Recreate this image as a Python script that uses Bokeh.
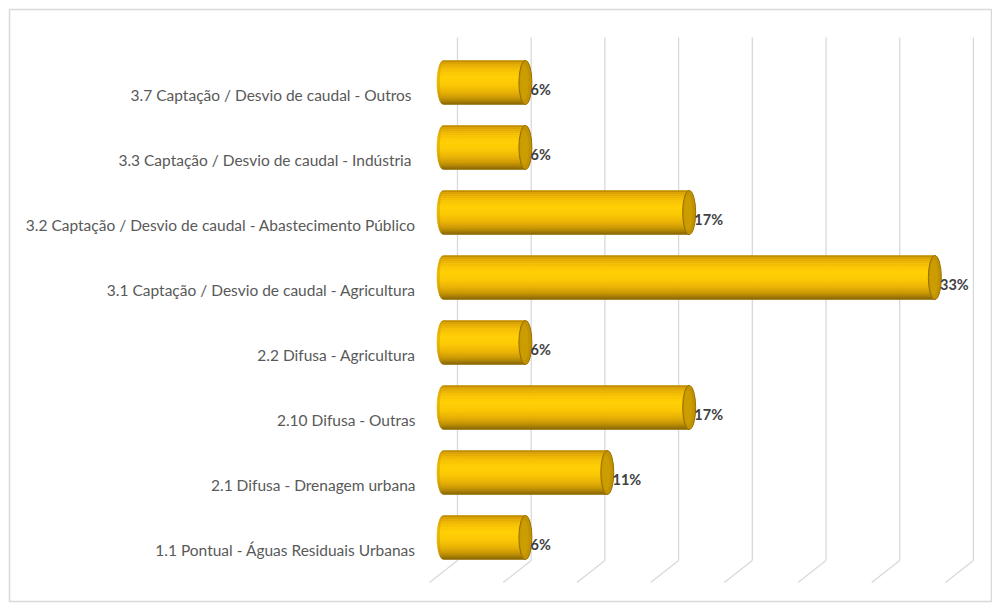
from bokeh.plotting import figure
from bokeh.models import Range1d
from bokeh.core.properties import value
from bokeh.embed import file_html
from bokeh.resources import INLINE
import numpy as np

# ---------------- data ----------------
categories = [
    "1.1 Pontual - Águas Residuais Urbanas",
    "2.1 Difusa - Drenagem urbana",
    "2.10 Difusa - Outras",
    "2.2 Difusa - Agricultura",
    "3.1 Captação / Desvio de caudal - Agricultura",
    "3.2 Captação / Desvio de caudal - Abastecimento Público",
    "3.3 Captação / Desvio de caudal  - Indústria",
    "3.7 Captação / Desvio de caudal  - Outros",
]
shares = [1/18, 2/18, 3/18, 1/18, 6/18, 3/18, 1/18, 1/18]
labels = ["6%", "11%", "17%", "6%", "33%", "17%", "6%", "6%"]
grid_ticks = [0.0, 0.05, 0.10, 0.15, 0.20, 0.25, 0.30, 0.35]

# ---------------- layout / style ----------------
W, H = 992, 604
BL, BT, BB, BR = 9, 9, 3, 0
PX_PER_UNIT = 1474.0          # horizontal scale (pixels per 100%)
X0_PX = 443 - BL              # zero position inside frame
ROW_PX = 65.0                 # spacing between categories
ROW0_PX = 537 - BT            # centre of first category inside frame
fw, fh = W - BL - BR, H - BT - BB

xr = Range1d(-X0_PX / PX_PER_UNIT, (fw - X0_PX) / PX_PER_UNIT)
yr = Range1d((ROW0_PX - fh) / ROW_PX, ROW0_PX / ROW_PX)

def px_x(n):   # horizontal pixel length -> data
    return n / PX_PER_UNIT

def px_y(n):   # vertical pixel length -> data
    return n / ROW_PX

p = figure(width=W, height=H, x_range=xr, y_range=yr,
           output_backend="svg", toolbar_location=None,
           min_border_left=BL, min_border_top=BT,
           min_border_bottom=BB, min_border_right=BR)
p.xaxis.visible = False
p.yaxis.visible = False
p.xgrid.visible = False
p.ygrid.visible = False
p.outline_line_color = "#D9D9D9"
p.outline_line_width = 1.5
p.background_fill_color = "white"
p.border_fill_color = "white"

n = len(categories)
ys = np.arange(n, dtype=float)

# ---------------- 3-D gridlines (back wall + floor) ----------------
depth = px_x(14)
wall_top = (ROW0_PX - (37 - BT)) / ROW_PX
wall_bot = -px_y(560 - 537)
floor_front = -px_y(582 - 537)
gx = np.array(grid_ticks)
p.segment(x0=gx + depth, y0=[wall_top] * len(gx), x1=gx + depth, y1=[wall_bot] * len(gx),
          line_color="#D9D9D9", line_width=1.3)
p.segment(x0=gx + depth, y0=[wall_bot] * len(gx), x1=gx - depth, y1=[floor_front] * len(gx),
          line_color="#D9D9D9", line_width=1.3)

# ---------------- cylinders ----------------
a = px_x(6.5)          # half-width of elliptical ends
b = px_y(22)           # half-height of bar
stops_t = [0.0, 0.07, 0.2, 0.38, 0.55, 0.72, 0.86, 0.95, 1.0]
stops_c = ["#B58400", "#DDA400", "#F4BE00", "#FFCF00", "#FCC800",
           "#E9B200", "#C99600", "#A07700", "#846200"]
stops_rgb = [tuple(int(c[i:i + 2], 16) for i in (1, 3, 5)) for c in stops_c]

def ramp(t):
    for k in range(len(stops_t) - 1):
        if stops_t[k] <= t <= stops_t[k + 1]:
            f = (t - stops_t[k]) / (stops_t[k + 1] - stops_t[k])
            c0, c1 = stops_rgb[k], stops_rgb[k + 1]
            return "#%02x%02x%02x" % tuple(int(round(c0[j] + (c1[j] - c0[j]) * f)) for j in range(3))
    return stops_c[-1]

NS = 22
xs_all, ys_all, cols = [], [], []
for yc, v in zip(ys, shares):
    for s in range(NS):
        t0, t1 = s / NS, (s + 1) / NS
        ya, yb = yc + b - 2 * b * t0, yc + b - 2 * b * t1
        yy = np.linspace(ya, yb, 6)
        u = np.clip((yy - yc) / b, -1, 1)
        xl = 0 - a * np.sqrt(1 - u ** 2) * 0.999
        px_ = list(xl) + [v, v]
        py_ = list(yy) + [yb, ya]
        xs_all.append(px_)
        ys_all.append(py_)
        cols.append(ramp((t0 + t1) / 2))
p.patches(xs=xs_all, ys=ys_all, fill_color=cols, line_color=cols, line_width=0.6)

# left-end subtle shading edge
p.patches(xs=[list(0 - a * np.sqrt(1 - np.clip(((np.linspace(yc + b, yc - b, 30)) - yc) / b, -1, 1) ** 2))
               + list(0 - a * 0.55 * np.sqrt(1 - np.clip(((np.linspace(yc - b, yc + b, 30)) - yc) / b, -1, 1) ** 2))
               for yc in ys],
          ys=[list(np.linspace(yc + b, yc - b, 30)) + list(np.linspace(yc - b, yc + b, 30)) for yc in ys],
          fill_color="#C29000", fill_alpha=0.35, line_color=None)

# right caps
p.ellipse(x=shares, y=ys, width=2 * a, height=2 * b,
          fill_color="#C29200", line_color="#967000", line_width=1)
p.ellipse(x=[v - a * 0.15 for v in shares], y=ys, width=1.3 * a, height=1.6 * b,
          fill_color="#D0A200", fill_alpha=0.7, line_color=None)

# ---------------- texts ----------------
p.text(x=[v + a * 0.8 for v in shares], y=ys - px_y(7), text=labels,
       text_font=value("Lato"), text_font_size="14.5px", text_font_style="bold",
       text_color="#404040", text_align="left", text_baseline="middle")

p.text(x=[-px_x(28)] * n, y=ys - px_y(12), text=categories,
       text_font=value("Lato"), text_font_size="15.5px",
       text_color="#595959", text_align="right", text_baseline="middle")

open("out.html", "w").write(file_html(p, INLINE))
